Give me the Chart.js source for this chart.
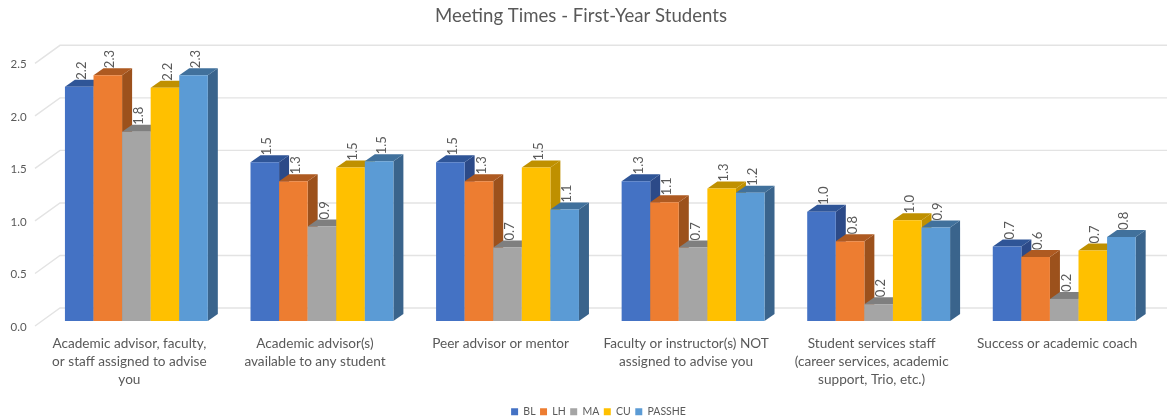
<!DOCTYPE html>
<html><head><meta charset="utf-8">
<style>html,body{margin:0;padding:0;background:#fff}canvas{display:block}</style>
<script src="https://cdn.jsdelivr.net/npm/chart.js@4"></script>
</head><body><canvas id="c" width="1167" height="420"></canvas>
<script>
const categories = [
  ["Academic advisor, faculty,","or staff assigned to advise","you"],
  ["Academic advisor(s)","available to any student"],
  ["Peer advisor or mentor"],
  ["Faculty or instructor(s) NOT","assigned to advise you"],
  ["Student services staff","(career services, academic","support, Trio, etc.)"],
  ["Success or academic coach"]
];
const BL = [2.23,1.51,1.51,1.33,1.04,0.71];
const LH = [2.34,1.33,1.33,1.13,0.76,0.61];
const MA = [1.80,0.90,0.70,0.70,0.16,0.21];
const CU = [2.22,1.46,1.46,1.26,0.96,0.67];
const PASSHE = [2.34,1.52,1.06,1.22,0.89,0.80];
const seriesNames = ["BL","LH","MA","CU","PASSHE"];
const seriesValues = [BL,LH,MA,CU,PASSHE];
const frontColors = ["#4472C4","#ED7D31","#A5A5A5","#FFC000","#5B9BD5"];
const sideColors = ["#2C4A88","#9C511C","#7B7B7B","#BF9000","#3A648C"];
const topColors = ["#2F5597","#AE5A21","#7F7F7F","#BF9000","#41719C"];
const FONT = "Lato, 'Open Sans', sans-serif";
const INK = "#595959";
const depthX = 10, depthY = 7;

const wall3d = {
  id:'wall3d',
  afterLayout(chart){
    chart.legend.left += 20; chart.legend.right += 20;
    chart.legend.top += 7; chart.legend.bottom += 7;
    chart.titleBlock.left += 2.5; chart.titleBlock.right += 2.5;
  },
  beforeDatasetsDraw(chart){
    const {ctx, scales:{y}} = chart;
    ctx.save();
    ctx.strokeStyle = "#E3E3E3"; ctx.lineWidth = 1.4;
    y.ticks.forEach((t,i)=>{
      const p = y.getPixelForTick(i);
      ctx.beginPath();
      ctx.moveTo(35,p+5); ctx.lineTo(60,p-13); ctx.lineTo(1167,p-13);
      ctx.stroke();
    });
    ctx.restore();
  },
  beforeDatasetDraw(){ return false; },
  afterDatasetsDraw(chart){
    const {ctx} = chart;
    ctx.save();
    chart.data.datasets.forEach((d,i)=>{
      const bars = chart.getDatasetMeta(i).data;
      bars.forEach(b=>{
        const x0=b.x-b.width/2, x1=b.x+b.width/2;
        ctx.fillStyle = sideColors[i];
        ctx.beginPath();
        ctx.moveTo(x1,b.y); ctx.lineTo(x1+depthX,b.y-depthY);
        ctx.lineTo(x1+depthX,b.base-depthY); ctx.lineTo(x1,b.base);
        ctx.closePath(); ctx.fill();
        ctx.fillStyle = topColors[i];
        ctx.beginPath();
        ctx.moveTo(x0,b.y); ctx.lineTo(x0+depthX,b.y-depthY);
        ctx.lineTo(x1+depthX,b.y-depthY); ctx.lineTo(x1,b.y);
        ctx.closePath(); ctx.fill();
        b.draw(ctx);
      });
    });
    ctx.font = "13px "+FONT; ctx.fillStyle = INK;
    ctx.textAlign='left'; ctx.textBaseline='middle';
    chart.data.datasets.forEach((d,i)=>{
      chart.getDatasetMeta(i).data.forEach((b,j)=>{
        ctx.save();
        ctx.translate(b.x+2.5,b.y-depthY);
        ctx.rotate(-Math.PI/2);
        ctx.fillText(d.data[j].toFixed(1),0,0);
        ctx.restore();
      });
    });
    ctx.restore();
  }
};

new Chart(document.getElementById('c'),{
  type:'bar',
  plugins:[wall3d],
  data:{labels:categories,datasets:seriesNames.map((n,i)=>({
    label:n,data:seriesValues[i],backgroundColor:frontColors[i],
    barPercentage:1,categoryPercentage:0.77
  }))},
  options:{
    responsive:false,animation:false,
    layout:{padding:{left:0,right:10,top:0,bottom:0}},
    plugins:{
      tooltip:{enabled:false},
      title:{display:true,text:"Meeting Times - First-Year Students",color:INK,
        font:{family:FONT,size:18.6,weight:'normal'},padding:{top:5,bottom:31}},
      legend:{position:'bottom',align:'center',
        labels:{boxWidth:7,boxHeight:7,padding:4.5,color:INK,font:{family:FONT,size:10.5}}}
    },
    scales:{
      x:{grid:{display:false},border:{display:false},
        ticks:{color:INK,padding:6,labelOffset:-7,maxRotation:0,minRotation:0,autoSkip:false,
          font:{family:FONT,size:13.6,lineHeight:1.3}},
        afterFit(s){s.height=74;}},
      y:{min:0,max:2.5,grid:{display:false},border:{display:false},
        ticks:{stepSize:0.5,color:INK,padding:9,labelOffset:6,
          callback:v=>v.toFixed(1),font:{family:FONT,size:11.5}},
        afterFit(s){s.width=43.6;}}
    }
  }
});
</script></body></html>
